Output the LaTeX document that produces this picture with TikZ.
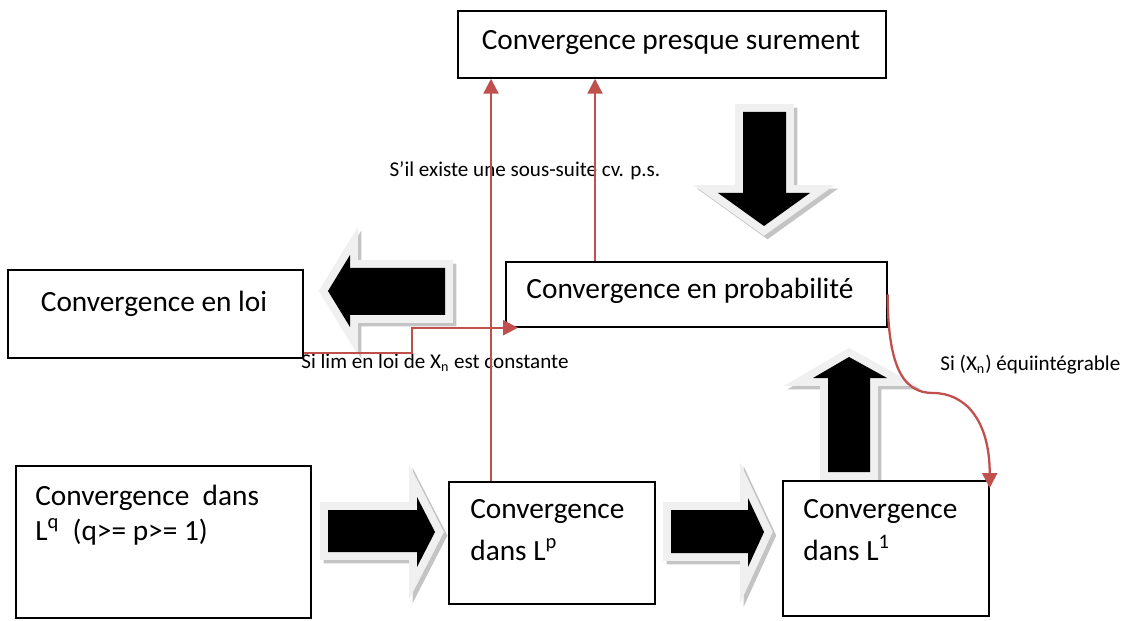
\documentclass[tikz,border=0pt]{standalone}
\usepackage{fontspec}
\setmainfont{Carlito}
\usetikzlibrary{arrows.meta,calc}
\definecolor{ConvRed}{HTML}{C0504D}
\definecolor{ConvRim}{HTML}{F0F0F0}
\definecolor{ConvShade}{HTML}{C4C4C4}
\tikzset{
  cbox/.style={draw=black,line width=1pt,fill=white,inner sep=0pt,anchor=north west},
  bigtext/.style={font=\fontsize{16.7}{20}\selectfont,inner sep=0pt},
  smalltext/.style={font=\fontsize{12}{14}\selectfont,inner sep=0pt},
  redlink/.style={draw=ConvRed,line width=1.3pt,-{Triangle[length=8.5pt,width=8.5pt]}},
  fatarrow/.style={fill=black,
    preaction={draw=ConvShade,fill=ConvShade,line width=9pt,line join=miter,
      transform canvas={xshift=2pt,yshift=-2pt}},
    preaction={draw=ConvRim,line width=9pt,line join=miter}},
}
\begin{document}
\begin{tikzpicture}[x=0.02cm,y=-0.02cm]
    \fill[white] (0,0) rectangle (1125,621);
    \useasboundingbox (0,0) rectangle (1125,621);
    % block arrows
    \fill[fatarrow] (743,112) -- (786,112) -- (786,193) -- (810,193)
      -- (764,226) -- (718,193) -- (743,193) -- cycle;
    \fill[fatarrow] (445,268) -- (445,315) -- (350,315) -- (350,327)
      -- (328,291) -- (350,255) -- (350,268) -- cycle;
    \fill[fatarrow] (328,510) -- (417,510) -- (417,497) -- (435,532)
      -- (417,567) -- (417,552) -- (328,552) -- cycle;
    \fill[fatarrow] (671,510) -- (748,510) -- (748,498) -- (764,532)
      -- (748,567) -- (748,553) -- (671,553) -- cycle;
    \fill[fatarrow] (828,472) -- (828,378) -- (813,378) -- (849,357)
      -- (887,378) -- (870,378) -- (870,472) -- cycle;
    % boxes
    \node[cbox,minimum width=8.56cm,minimum height=1.34cm] (ps) at (457,10) {};
    \node[cbox,minimum width=5.90cm,minimum height=1.76cm] (loi) at (7,269) {};
    \node[cbox,minimum width=7.62cm,minimum height=1.30cm] (prob) at (505,261) {};
    \node[cbox,minimum width=5.90cm,minimum height=3.04cm] (lq) at (15,465) {};
    \node[cbox,minimum width=4.12cm,minimum height=2.44cm] (lp) at (448,481) {};
    \node[cbox,minimum width=4.12cm,minimum height=2.70cm] (lone) at (782,480) {};
    % texts
    \node[bigtext,anchor=base] (pstext) at (671,50) {Convergence presque surement};
    \node[bigtext,anchor=base] (loitext) at (154,312) {Convergence en loi};
    \node[bigtext,anchor=base] (probtext) at (690,298) {Convergence en probabilité};
    \node[bigtext,anchor=base west] (lqa) at (35,505) {Convergence\ \ dans};
    \node[bigtext,anchor=base west] (lqb) at (35,540) {L\textsuperscript{q}\ \ (q>= p>= 1)};
    \node[bigtext,anchor=base west] (lpa) at (470,518) {Convergence};
    \node[bigtext,anchor=base west] (lpb) at (470,560) {dans L\textsuperscript{p}};
    \node[bigtext,anchor=base west] (lonea) at (803,518) {Convergence};
    \node[bigtext,anchor=base west] (loneb) at (803,560) {dans L\textsuperscript{1}};
    \node[smalltext,anchor=base] (subseq) at (525,177) {S’il existe une sous-suite cv. p.s.};
    \node[smalltext,anchor=base west] (const) at (301,368)
      {Si lim en loi de X\textsubscript{n} est constante};
    \node[smalltext,anchor=base west] (equi) at (940,370)
      {Si (X\textsubscript{n}) équiintégrable};
    % links
    \coordinate (lpup) at ($(lp.north west)+(43,0)$);
    \coordinate (probup) at ($(prob.north west)+(90,0)$);
    \coordinate (loiout) at ($(loi.south east)+(0,-6)$);
    \coordinate (probin) at ($(prob.south west)+(13,0)$);
    \coordinate (bend) at (933,393);
    \coordinate (onein) at ($(lone.north east)+(0,8)$);
    \draw[redlink] (lpup) -- (lpup |- ps.south);
    \draw[redlink] (probup) -- (probup |- ps.south);
    \draw[redlink] (loiout) -- ++(108,0) |- (probin);
    \draw[redlink] (prob.east) .. controls +(0,76) and +(-28,0) .. (bend)
      .. controls +(32,0) and +(0,-68) .. (onein);
\end{tikzpicture}
\end{document}
